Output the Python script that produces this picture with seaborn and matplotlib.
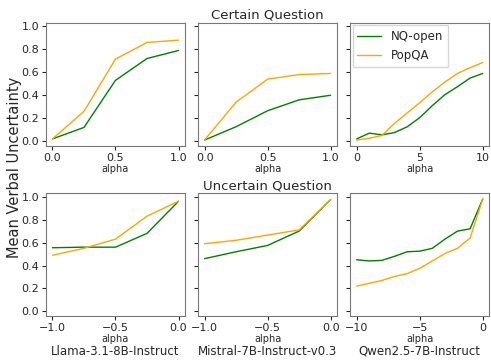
import numpy as np
import pandas as pd
import seaborn as sns
import matplotlib
matplotlib.use("Agg")
import matplotlib.pyplot as plt

models = ["Llama-3.1-8B-Instruct", "Mistral-7B-Instruct-v0.3", "Qwen2.5-7B-Instruct"]
series = ["NQ-open", "PopQA"]

alpha_small_pos = [0.0, 0.25, 0.5, 0.75, 1.0]
alpha_small_neg = [-1.0, -0.75, -0.5, -0.25, 0.0]
alpha_qwen_pos = [0, 1, 2, 3, 4, 5, 6, 7, 8, 9, 10]
alpha_qwen_neg = [-10, -9, -8, -7, -6, -5, -4, -3, -2, -1, 0]

# Certain question
llama_cert_nq = [0.02, 0.12, 0.53, 0.72, 0.79]
llama_cert_pop = [0.02, 0.26, 0.715, 0.86, 0.88]
mistral_cert_nq = [0.01, 0.126, 0.265, 0.36, 0.40]
mistral_cert_pop = [0.01, 0.34, 0.54, 0.58, 0.59]
qwen_cert_nq = [0.02, 0.07, 0.055, 0.075, 0.125, 0.205, 0.31, 0.405, 0.475, 0.55, 0.59]
qwen_cert_pop = [0.01, 0.025, 0.05, 0.155, 0.245, 0.335, 0.43, 0.515, 0.59, 0.64, 0.685]

# Uncertain question
llama_unc_nq = [0.555, 0.56, 0.56, 0.68, 0.96]
llama_unc_pop = [0.49, 0.55, 0.63, 0.83, 0.96]
mistral_unc_nq = [0.46, 0.52, 0.575, 0.70, 0.975]
mistral_unc_pop = [0.59, 0.62, 0.665, 0.71, 0.975]
qwen_unc_nq = [0.45, 0.44, 0.445, 0.48, 0.52, 0.525, 0.55, 0.63, 0.70, 0.72, 0.98]
qwen_unc_pop = [0.22, 0.245, 0.27, 0.305, 0.33, 0.375, 0.44, 0.505, 0.55, 0.64, 0.98]

panels = [
    [(alpha_small_pos, llama_cert_nq, llama_cert_pop),
     (alpha_small_pos, mistral_cert_nq, mistral_cert_pop),
     (alpha_qwen_pos, qwen_cert_nq, qwen_cert_pop)],
    [(alpha_small_neg, llama_unc_nq, llama_unc_pop),
     (alpha_small_neg, mistral_unc_nq, mistral_unc_pop),
     (alpha_qwen_neg, qwen_unc_nq, qwen_unc_pop)],
]

sns.set_style("ticks")
plt.rcParams['font.family'] = ['DejaVu Sans']

fig, axes = plt.subplots(2, 3, figsize=(4.91, 3.61), dpi=100, sharey=True)
fig.subplots_adjust(left=0.094, right=0.996, top=0.936, bottom=0.125, wspace=0.097, hspace=0.39)

palette = {"NQ-open": "green", "PopQA": "orange"}
for r in range(2):
    for c in range(3):
        ax = axes[r, c]
        xs, nq, pop = panels[r][c]
        df = pd.DataFrame({
            "alpha": list(xs) + list(xs),
            "value": list(nq) + list(pop),
            "dataset": [series[0]] * len(xs) + [series[1]] * len(xs),
        })
        sns.lineplot(data=df, x="alpha", y="value", hue="dataset", palette=palette,
                     ax=ax, linewidth=1.0, legend=(r == 0 and c == 2))
        ax.set_ylabel("")
        ax.set_xlabel("alpha", fontsize=7, labelpad=1)
        ax.tick_params(labelsize=8, length=3, pad=2)
        for s in ax.spines.values():
            s.set_color("#777777")
            s.set_linewidth(0.8)
        ax.set_yticks([0.0, 0.2, 0.4, 0.6, 0.8, 1.0])
        if r == 1:
            ax.text(0.5, -0.29, models[c], transform=ax.transAxes, ha="center", va="center", fontsize=8.5)

axes[0, 0].set_xticks([0.0, 0.5, 1.0])
axes[0, 1].set_xticks([0.0, 0.5, 1.0])
axes[0, 2].set_xticks([0, 5, 10])
axes[1, 0].set_xticks([-1.0, -0.5, 0.0])
axes[1, 1].set_xticks([-1.0, -0.5, 0.0])
axes[1, 2].set_xticks([-10, -5, 0])

axes[0, 1].set_title("Certain Question", fontsize=9.5, pad=3)
axes[1, 1].set_title("Uncertain Question", fontsize=9.5, pad=3)

leg = axes[0, 2].legend(loc="upper left", fontsize=8.5, frameon=True, fancybox=False,
                        borderaxespad=0.2, handlelength=2.0)
leg.set_title(None)

fig.text(0.030, 0.537, "Mean Verbal Uncertainty", rotation=90, ha="center", va="center", fontsize=10.5)

fig.savefig("out.png", dpi=100)
